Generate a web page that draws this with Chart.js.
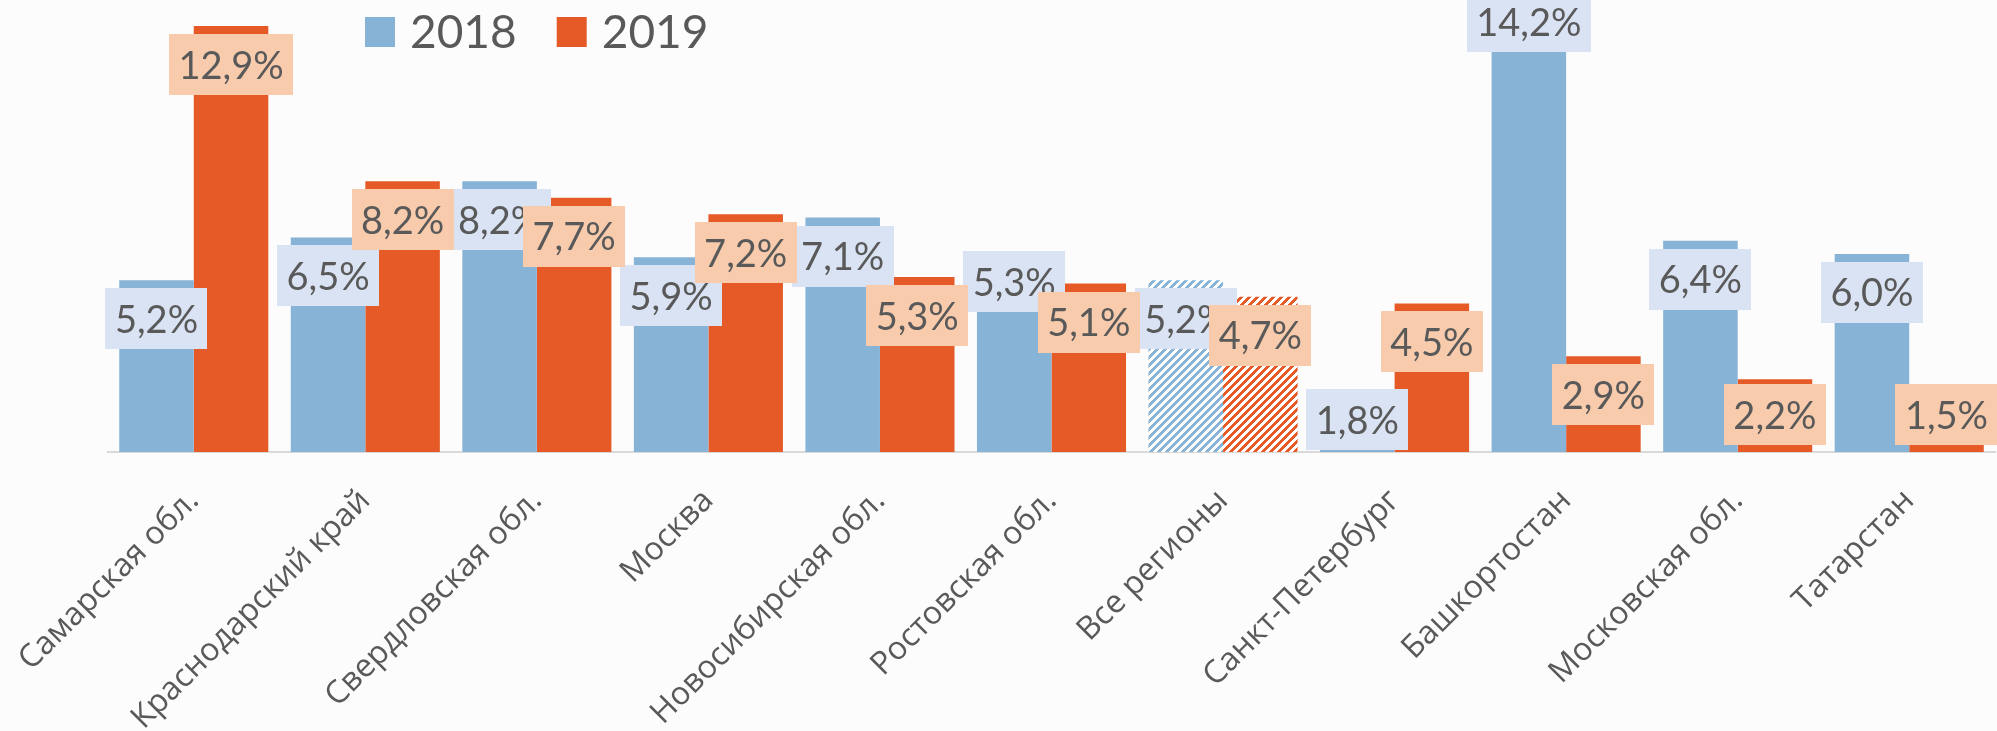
<!DOCTYPE html>
<html>
<head>
<meta charset="utf-8">
<script src="https://cdn.jsdelivr.net/npm/chart.js@4.4.1/dist/chart.umd.min.js"></script>
<style>
html, body { margin: 0; padding: 0; background: #fcfcfc; }
canvas { display: block; }
</style>
</head>
<body>
<canvas id="c" width="1997" height="731"></canvas>
<script>
// ---- data ----
const categories = ['Самарская обл.', 'Краснодарский край', 'Свердловская обл.', 'Москва',
  'Новосибирская обл.', 'Ростовская обл.', 'Все регионы', 'Санкт-Петербург',
  'Башкортостан', 'Московская обл.', 'Татарстан'];
const seriesNames = ['2018', '2019'];
const values2018 = [5.2, 6.5, 8.2, 5.9, 7.1, 5.3, 5.2, 1.8, 14.2, 6.4, 6.0];
const values2019 = [12.9, 8.2, 7.7, 7.2, 5.3, 5.1, 4.7, 4.5, 2.9, 2.2, 1.5];
const hatchedCategory = 'Все регионы';

// ---- styles ----
const barColors = ['#87B3D7', '#E55A27'];
const boxColors = ['#DAE3F3', '#F8CBAD'];
const textColor = '#595959';
// manual label nudges (pixels), keyed "datasetIndex:categoryIndex"
const labelNudge = { '0:5': -34, '0:7': 5 };

function hatch(color) {
  const c = document.createElement('canvas');
  c.width = 8; c.height = 8;
  const g = c.getContext('2d');
  g.fillStyle = '#ffffff';
  g.fillRect(0, 0, 8, 8);
  g.fillStyle = color;
  for (let y = 0; y < 8; y++)
    for (let x = 0; x < 8; x++)
      if (((x + y) % 8) < 4) g.fillRect(x, y, 1, 1);
  return g.createPattern(c, 'repeat');
}

function fmt(v) { return v.toFixed(1).replace('.', ',') + '%'; }

const valueLabels = {
  id: 'valueLabels',
  afterDatasetsDraw(chart) {
    const ctx = chart.ctx;
    const area = chart.chartArea;
    ctx.save();
    ctx.font = '38px Lato';
    ctx.textAlign = 'center';
    ctx.textBaseline = 'alphabetic';
    chart.data.datasets.forEach((ds, di) => {
      const meta = chart.getDatasetMeta(di);
      meta.data.forEach((bar, i) => {
        const txt = fmt(ds.data[i]);
        const w = ctx.measureText(txt).width + 19;
        const h = 61;
        let top = Math.max(bar.y + 8, -12);
        top = Math.min(top, area.bottom - 7 - h);
        top += labelNudge[di + ':' + i] || 0;
        ctx.fillStyle = boxColors[di];
        ctx.fillRect(Math.round(bar.x - w / 2), Math.round(top), Math.round(w), h);
        ctx.fillStyle = textColor;
        ctx.fillText(txt, bar.x, top + h / 2 + 14);
      });
    });
    ctx.restore();
  }
};

const customLegend = {
  id: 'customLegend',
  afterDraw(chart) {
    const ctx = chart.ctx;
    ctx.save();
    ctx.font = '46px Lato';
    ctx.textBaseline = 'alphabetic';
    ctx.textAlign = 'left';
    let x = 365;
    seriesNames.forEach((name, i) => {
      ctx.fillStyle = barColors[i];
      ctx.fillRect(x, 17, 30, 30);
      ctx.fillStyle = textColor;
      ctx.fillText(name, x + 45, 48);
      x += 45 + ctx.measureText(name).width + 40;
    });
    ctx.restore();
  }
};

function draw() {
  const colorsFor = (i) => categories.map(c => c === hatchedCategory ? hatch(barColors[i]) : barColors[i]);
  new Chart(document.getElementById('c'), {
    type: 'bar',
    data: {
      labels: categories,
      datasets: [
        { label: seriesNames[0], data: values2018, backgroundColor: colorsFor(0), borderWidth: 0 },
        { label: seriesNames[1], data: values2019, backgroundColor: colorsFor(1), borderWidth: 0 }
      ]
    },
    options: {
      responsive: false,
      animation: false,
      devicePixelRatio: 1,
      layout: { padding: { left: 108, right: 2, top: 0, bottom: 0 } },
      datasets: { bar: { barPercentage: 1.0, categoryPercentage: 0.869 } },
      plugins: { legend: { display: false }, tooltip: { enabled: false } },
      scales: {
        x: {
          grid: { display: false, drawTicks: false },
          border: { display: true, color: '#D9D9D9', width: 2 },
          ticks: {
            color: textColor,
            font: { family: 'Open Sans', size: 32 },
            minRotation: 45, maxRotation: 45,
            autoSkip: false,
            padding: 30
          },
          afterFit(scale) {
            scale.height = 279;
            scale.paddingLeft = 0;
            scale.paddingRight = 0;
          }
        },
        y: { display: false, min: 0, max: 13.69 }
      }
    },
    plugins: [valueLabels, customLegend]
  });
}

Promise.all([
  document.fonts.load('38px Lato'),
  document.fonts.load('32px "Open Sans"')
]).then(draw, draw);
</script>
</body>
</html>
